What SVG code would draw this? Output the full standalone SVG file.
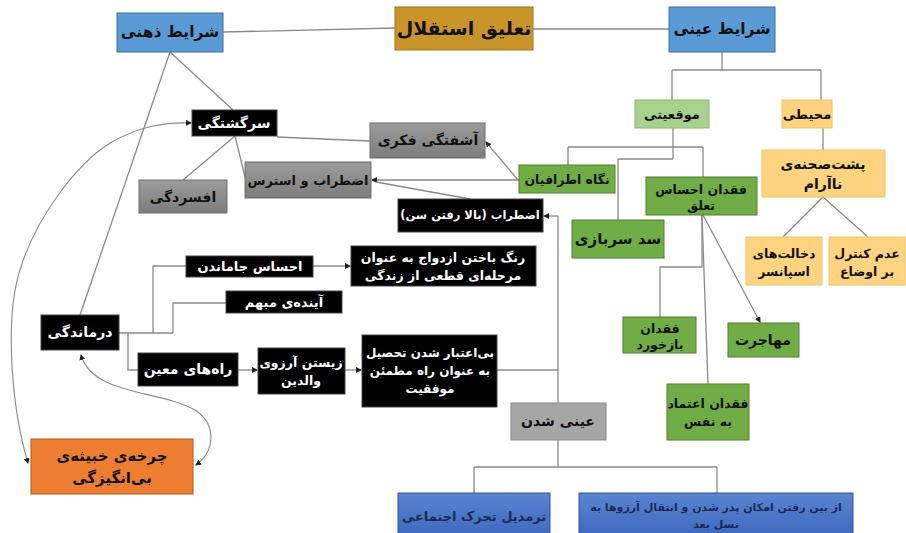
<svg xmlns="http://www.w3.org/2000/svg" width="906" height="533" viewBox="0 0 906 533">
<defs>
<style>
text{font-family:"DejaVu Sans","Noto Sans",sans-serif;font-weight:bold;text-anchor:middle;direction:rtl;dominant-baseline:central}
.w{fill:#fff}
.k{fill:#111}
.nv{fill:#1c2a55}
.ln{fill:none;stroke:#8a8a8a;stroke-width:1.3}
.cv{fill:none;stroke:#8a8a8a;stroke-width:1.1}
.blk{fill:#000;stroke:#444;stroke-width:1}
.blu{fill:#5B9BD5;stroke:#41719C;stroke-width:1}
.gld{fill:#C9952B;stroke:#9F7620;stroke-width:1}
.lgr{fill:#A9D18E;stroke:#8AB86E;stroke-width:1}
.grn{fill:#70AD47;stroke:#507E32;stroke-width:1}
.org{fill:#FFD37F;stroke:#F2C266;stroke-width:1}
.gry{fill:url(#gg);stroke:#6f6f6f;stroke-width:1}
.lgy{fill:#A6A6A6;stroke:#8a8a8a;stroke-width:1}
.orn{fill:#ED7D31;stroke:#AE5A21;stroke-width:1}
.dbl{fill:url(#bg);stroke:#2F5597;stroke-width:1}
</style>
<linearGradient id="gg" x1="0" y1="0" x2="0" y2="1"><stop offset="0" stop-color="#9c9c9c"/><stop offset="1" stop-color="#7c7c7c"/></linearGradient>
<linearGradient id="bg" x1="0" y1="0" x2="0" y2="1"><stop offset="0" stop-color="#5A85D2"/><stop offset="1" stop-color="#3C67BE"/></linearGradient>
<marker id="ar" markerWidth="6" markerHeight="6" refX="5" refY="3" orient="auto" markerUnits="userSpaceOnUse"><path d="M0,0 L6,3 L0,6 z" fill="#222"/></marker>
<marker id="as" markerWidth="6" markerHeight="6" refX="1" refY="3" orient="auto" markerUnits="userSpaceOnUse"><path d="M6,0 L0,3 L6,6 z" fill="#222"/></marker>
</defs>
<rect width="906" height="533" fill="#fff"/>

<g id="connectors">
<path class="ln" d="M223,32 L395,28"/>
<path class="ln" d="M533,29 L669,29"/>
<path class="ln" d="M722,52 V70 M672,70 H821 M672,70 V100 M821,70 V100"/>
<path class="ln" d="M823,128 V150"/>
<path class="ln" d="M823,197 L783,237 M823,197 L868,237"/>
<path class="ln" d="M673,128 V159 M568,147 H703 M568,147 V165 M703,147 V177 M673,159 H618 V220"/>
<path class="ln" d="M702,215 V267 H660 V317"/>
<path class="ln" d="M702,215 L708,384"/>
<path class="ln" d="M703,215 L760,322" marker-end="url(#ar)"/>
<path class="ln" d="M518,180 L486,142" marker-end="url(#ar)"/>
<path class="ln" d="M519,180 H372" marker-end="url(#ar)"/>
<path class="ln" d="M470,199 L376,182"/>
<path class="ln" d="M170,52 L233,110"/>
<path class="ln" d="M170,52 L80,315"/>
<path class="ln" d="M235,136 L183,180"/>
<path class="ln" d="M235,136 L245,177"/>
<path class="ln" d="M277,137 L370,141"/>
<path class="ln" d="M497,370 H558 M558,216 V403"/>
<path class="ln" d="M558,216 H544" marker-end="url(#ar)"/>
<path class="ln" d="M558,440 V467 M474,467 H717 M474,467 V493 M717,467 V493"/>
<path class="ln" d="M119,333 H173 M153,333 V266 H186 M173,333 V303 H226 M128,333 V370 H138"/>
<path class="ln" d="M313,266 H350" marker-end="url(#ar)"/>
<path class="ln" d="M238,370 H257" marker-end="url(#ar)"/>
<path class="ln" d="M345,370 H361" marker-end="url(#ar)"/>
<path class="cv" d="M28,463 C12,410 4,320 20,270 C35,220 75,165 110,143 C140,126 165,122 191,123" marker-start="url(#as)" marker-end="url(#ar)"/>
<path class="cv" d="M81,355 C92,395 160,390 195,410 C218,425 214,452 196,465" marker-start="url(#as)" marker-end="url(#ar)"/>
</g>

<g id="n-zehni"><rect class="blu" x="117" y="13" width="106" height="39"/><text class="k" x="170" y="32" font-size="15.5">شرایط ذهنی</text></g>
<g id="n-taliq"><rect class="gld" x="395" y="7" width="138" height="43"/><text class="k" x="464" y="28" font-size="19">تعلیق استقلال</text></g>
<g id="n-eini"><rect class="blu" x="669" y="7" width="106" height="45"/><text class="k" x="722" y="29" font-size="15.5">شرایط عینی</text></g>
<g id="n-mowq"><rect class="lgr" x="635" y="100" width="74" height="28"/><text class="k" x="672" y="114" font-size="13">موقعیتی</text></g>
<g id="n-mohiti"><rect class="org" x="782" y="100" width="50" height="28"/><text class="k" x="807" y="114" font-size="13">محیطی</text></g>
<g id="n-posht"><rect class="org" x="762" y="150" width="123" height="47"/><text class="k" x="823" y="164" font-size="14">پشت‌صحنه‌ی</text><text class="k" x="823" y="184" font-size="14">ناآرام</text></g>
<g id="n-dekhalat"><rect class="org" x="746" y="237" width="76" height="48"/><text class="k" x="784" y="253" font-size="12.5">دخالت‌های</text><text class="k" x="784" y="271" font-size="12.5">اسپانسر</text></g>
<g id="n-adam"><rect class="org" x="829" y="237" width="76" height="48"/><text class="k" x="867" y="253" font-size="12.5">عدم کنترل</text><text class="k" x="867" y="271" font-size="12.5">بر اوضاع</text></g>
<g id="n-negah"><rect class="grn" x="519" y="165" width="96" height="28"/><text class="k" x="567" y="179" font-size="12.5">نگاه اطرافیان</text></g>
<g id="n-feqdan-taaloq"><rect class="grn" x="646" y="177" width="111" height="38"/><text class="k" x="701" y="189" font-size="12.5">فقدان احساس</text><text class="k" x="701" y="205" font-size="12.5">تعلق</text></g>
<g id="n-sad"><rect class="grn" x="572" y="220" width="92" height="38"/><text class="k" x="618" y="239" font-size="15">سد سربازی</text></g>
<g id="n-bazkhord"><rect class="grn" x="623" y="317" width="73" height="36"/><text class="k" x="660" y="328" font-size="12.5">فقدان</text><text class="k" x="660" y="344" font-size="12.5">بازخورد</text></g>
<g id="n-mohajerat"><rect class="grn" x="728" y="323" width="71" height="34"/><text class="k" x="763" y="340" font-size="14">مهاجرت</text></g>
<g id="n-etemad"><rect class="grn" x="667" y="384" width="82" height="56"/><text class="k" x="708" y="403" font-size="12.5">فقدان اعتماد</text><text class="k" x="708" y="421" font-size="12.5">به نفس</text></g>
<g id="n-einishodan"><rect class="lgy" x="511" y="403" width="95" height="37"/><text class="k" x="558" y="421" font-size="14">عینی شدن</text></g>
<g id="n-tarmdil"><rect class="dbl" x="398" y="493" width="152" height="45"/><text class="nv" x="474" y="516" font-size="13">ترمدیل تحرک اجتماعی</text></g>
<g id="n-azbein"><rect class="dbl" x="579" y="493" width="274" height="45"/><text class="nv" x="716" y="507" font-size="11">از بین رفتن امکان پدر شدن و انتقال آرزوها به</text><text class="nv" x="716" y="524" font-size="11">نسل بعد</text></g>
<g id="n-sargashtegi"><rect class="blk" x="192" y="110" width="85" height="26"/><text class="w" x="234" y="123" font-size="14">سرگشتگی</text></g>
<g id="n-ashoftegi"><rect class="gry" x="370" y="123" width="115" height="35"/><text class="k" x="428" y="140" font-size="14">آشفتگی فکری</text></g>
<g id="n-ezterab"><rect class="gry" x="245" y="162" width="126" height="36"/><text class="k" x="308" y="180" font-size="13">اضطراب و استرس</text></g>
<g id="n-afsordegi"><rect class="gry" x="139" y="180" width="88" height="33"/><text class="k" x="183" y="197" font-size="14">افسردگی</text></g>
<g id="n-ezterab-sen"><rect class="blk" x="398" y="199" width="145" height="33"/><text class="w" x="470" y="215" font-size="11.5">اضطراب (بالا رفتن سن)</text></g>
<g id="n-jamandan"><rect class="blk" x="186" y="256" width="127" height="21"/><text class="w" x="250" y="266" font-size="13">احساس جاماندن</text></g>
<g id="n-rang"><rect class="blk" x="351" y="246" width="185" height="40"/><text class="w" x="443" y="257" font-size="12.5">رنگ باختن ازدواج به عنوان</text><text class="w" x="443" y="275" font-size="12.5">مرحله‌ای قطعی از زندگی</text></g>
<g id="n-ayande"><rect class="blk" x="226" y="291" width="116" height="22"/><text class="w" x="284" y="302" font-size="13">آینده‌ی مبهم</text></g>
<g id="n-darmandegi"><rect class="blk" x="41" y="315" width="78" height="35"/><text class="w" x="80" y="332" font-size="14">درماندگی</text></g>
<g id="n-rahha"><rect class="blk" x="138" y="353" width="100" height="33"/><text class="w" x="188" y="369" font-size="14">راه‌های معین</text></g>
<g id="n-zistan"><rect class="blk" x="258" y="348" width="87" height="46"/><text class="w" x="301" y="362" font-size="12.5">زیستن آرزوی</text><text class="w" x="301" y="380" font-size="12.5">والدین</text></g>
<g id="n-bietebar"><rect class="blk" x="362" y="335" width="135" height="72"/><text class="w" x="430" y="353" font-size="12">بی‌اعتبار شدن تحصیل</text><text class="w" x="430" y="371" font-size="12">به عنوان راه مطمئن</text><text class="w" x="430" y="389" font-size="12">موفقیت</text></g>
<g id="n-charkhe"><rect class="orn" x="31" y="439" width="162" height="55"/><text class="k" x="112" y="456" font-size="15">چرخه‌ی خبیثه‌ی</text><text class="k" x="112" y="478" font-size="15">بی‌انگیزگی</text></g>
</svg>
